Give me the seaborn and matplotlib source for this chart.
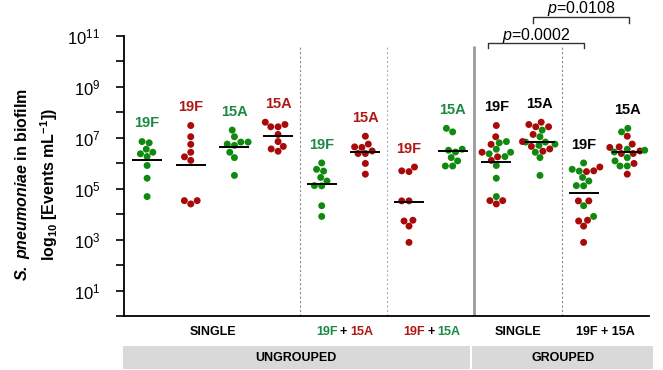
import numpy as np
import pandas as pd
import matplotlib.pyplot as plt
import seaborn as sns
from matplotlib.patches import Rectangle

# log10 values (events / mL)
# ungrouped, single strain
single_19f_green = [6.80, 6.85, 6.43, 6.37, 6.55, 6.26, 5.91, 5.41, 4.69]
single_19f_red = [7.48, 7.04, 6.74, 6.43, 6.25, 6.11, 4.53, 4.40, 4.53]
single_15a_green = [7.30, 7.04, 6.75, 6.83, 6.83, 6.70, 6.43, 6.22, 5.52]
single_15a_red = [7.52, 7.43, 7.43, 7.61, 7.13, 6.85, 6.66, 6.47, 6.56]
# ungrouped, co-culture
mix1_19f_green = [5.76, 5.69, 6.01, 5.30, 5.11, 5.12, 5.44, 4.33, 3.91]
mix1_15a_red = [7.06, 6.64, 6.75, 6.62, 6.48, 6.38, 6.38, 5.99, 5.57]
mix2_19f_red = [5.70, 5.67, 5.85, 4.52, 4.52, 3.73, 3.53, 3.76, 2.89]
mix2_15a_green = [7.23, 7.37, 6.51, 6.44, 6.55, 6.09, 6.22, 5.89, 5.89]

strain_labels = ['19F', '19F', '15A', '15A', '19F', '15A', '19F', '15A',
                 '19F', '15A', '19F', '15A']
label_colors = ['g', 'r', 'g', 'r', 'g', 'r', 'r', 'g', 'k', 'k', 'k', 'k']

GREEN = '#0f8a0f'
RED = '#a80a0a'
TXT_GREEN = '#1b8a45'
TXT_RED = '#b01818'
txt_col = {'g': TXT_GREEN, 'r': TXT_RED, 'k': 'black'}

# columns: (list of (values, dot colour))
columns = [
    [(single_19f_green, 'green')],
    [(single_19f_red, 'red')],
    [(single_15a_green, 'green')],
    [(single_15a_red, 'red')],
    [(mix1_19f_green, 'green')],
    [(mix1_15a_red, 'red')],
    [(mix2_19f_red, 'red')],
    [(mix2_15a_green, 'green')],
    [(single_19f_green, 'green'), (single_19f_red, 'red')],
    [(single_15a_green, 'green'), (single_15a_red, 'red')],
    [(mix1_19f_green, 'green'), (mix2_19f_red, 'red')],
    [(mix1_15a_red, 'red'), (mix2_15a_green, 'green')],
]

rows = []
for i, col in enumerate(columns):
    for vals, c in col:
        for v in vals:
            rows.append({'col': f'c{i}', 'logval': v, 'dot': c})
df = pd.DataFrame(rows)
order = [f'c{i}' for i in range(len(columns))]

plt.rcParams['font.family'] = ['Liberation Sans', 'DejaVu Sans']
plt.rcParams['mathtext.fontset'] = 'custom'
plt.rcParams['mathtext.rm'] = 'Liberation Sans'
plt.rcParams['mathtext.it'] = 'Liberation Sans:italic'
plt.rcParams['mathtext.bf'] = 'Liberation Sans:bold'
plt.rcParams['mathtext.sf'] = 'Liberation Sans:bold:italic'

fig = plt.figure(figsize=(6.63, 3.70), dpi=100)
ax = fig.add_axes([0.187, 0.146, 0.792, 0.757])

sns.swarmplot(data=df, x='col', y='logval', hue='dot', order=order,
              palette={'green': GREEN, 'red': RED}, size=5.0, legend=False,
              linewidth=0, ax=ax, zorder=3)
sns.pointplot(data=df, x='col', y='logval', order=order, estimator='mean',
              errorbar=None, linestyle='none', marker='_', markersize=21,
              markeredgewidth=1.4, color='black', ax=ax, zorder=4)

ax.set_xlim(-0.53, 11.5)
ax.set_ylim(0, 11)
ax.set_yticks(range(0, 12))
ax.set_yticklabels([r'$\mathregular{10^{%d}}$' % k if k % 2 else '' for k in range(12)],
                   fontsize=12)
ax.tick_params(axis='y', direction='out', length=6, width=1.2, pad=11)
ax.tick_params(axis='x', length=0)
ax.set_xticklabels([])
ax.set_xlabel('')
for s in ['top', 'right']:
    ax.spines[s].set_visible(False)
ax.spines['left'].set_linewidth(1.3)
ax.spines['bottom'].set_linewidth(1.3)

ax.set_ylabel(r'$\mathsf{S.\ pneumoniae}$ in biofilm' + '\n' +
              r'log$_{\mathbf{10}}$ [Events mL$^{\mathbf{-1}}$])',
              fontsize=11.5, fontweight='bold', linespacing=1.35)
ax.yaxis.set_label_coords(-0.122, 0.47)

# dividers
ax.vlines([3.5, 9.5], 0, 10.55, colors='#8a8a8a', linestyles=(0, (2, 2)), lw=0.8)
ax.vlines([5.5], 0, 10.55, colors='#b0b0b0', linestyles=(0, (2, 2)), lw=0.8)
ax.vlines([7.5], 0, 10.6, colors='#9a9a9a', lw=2)

# strain labels above each column
for i, col in enumerate(columns):
    top = max(max(v) for v, _ in col)
    ax.text(i, top + 0.72, strain_labels[i], ha='center', va='center',
            fontsize=10.5, fontweight='bold', color=txt_col[label_colors[i]])

# condition labels under the axis
tr = ax.get_xaxis_transform()
ax.text(1.5, -0.057, 'SINGLE', transform=tr, ha='center', va='center',
        fontsize=9, fontweight='bold')
ax.text(8.5, -0.057, 'SINGLE', transform=tr, ha='center', va='center',
        fontsize=9, fontweight='bold')
ax.text(10.5, -0.057, '19F + 15A', transform=tr, ha='center', va='center',
        fontsize=9, fontweight='bold')
for x, c1, c2 in [(4.5, TXT_GREEN, TXT_RED), (6.5, TXT_RED, TXT_GREEN)]:
    ax.annotate('+', (x, -0.057), xycoords=tr, ha='center', va='center',
                fontsize=9, fontweight='bold')
    ax.annotate('19F', (x, -0.057), xycoords=tr, xytext=(-4.5, 0),
                textcoords='offset points', ha='right', va='center',
                fontsize=9, fontweight='bold', color=c1)
    ax.annotate('15A', (x, -0.057), xycoords=tr, xytext=(4.5, 0),
                textcoords='offset points', ha='left', va='center',
                fontsize=9, fontweight='bold', color=c2)

# group boxes
for x0, x1, name in [(-0.55, 7.39, 'UNGROUPED'), (7.45, 11.6, 'GROUPED')]:
    ax.add_patch(Rectangle((x0, -0.19), x1 - x0, 0.082, transform=tr,
                           facecolor='#d9d9d9', edgecolor='none', clip_on=False))
    ax.text((x0 + x1) / 2, -0.149, name, transform=tr, ha='center',
            va='center', fontsize=9, fontweight='bold')

# significance brackets
for x0, x1, yb, yt, ptxt in [(7.82, 10.02, 10.72, 10.53, '0.0002'),
                             (8.85, 11.05, 11.75, 11.51, '0.0108')]:
    ax.plot([x0, x0, x1, x1], [yt, yb, yb, yt], color='#333333', lw=1,
            clip_on=False)
    ax.text((x0 + x1) / 2, yb + 0.13, r'$\mathit{p}$=' + ptxt, ha='center',
            va='baseline', fontsize=11.5)

fig.savefig('out.png', dpi=100)
